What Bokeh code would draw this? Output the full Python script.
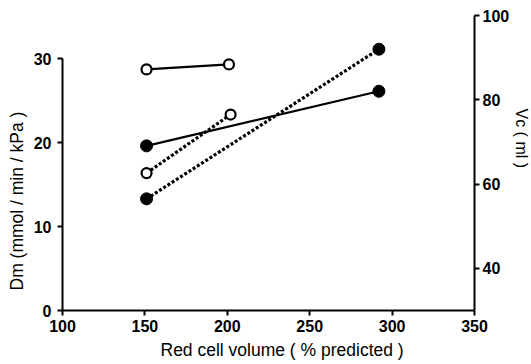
from bokeh.plotting import figure
from bokeh.models import Range1d, LinearAxis, FixedTicker, Title
from bokeh.embed import file_html
from bokeh.resources import INLINE

# Dm (left axis, solid lines)
dm_open_x = [151, 201]
dm_open_y = [28.7, 29.3]
dm_filled_x = [151, 292]
dm_filled_y = [19.6, 26.1]

# Vc (right axis, dotted lines)
vc_open_x = [151, 202]
vc_open_y = [62.6, 76.5]
vc_filled_x = [151, 292]
vc_filled_y = [56.5, 92.0]

x_ticks = [100, 150, 200, 250, 300, 350]
dm_ticks = [0, 10, 20, 30]
vc_ticks = [40, 60, 80, 100]

x_label = "Red cell volume ( % predicted )"
dm_label = "Dm  (mmol / min / kPa )"
vc_label = "Vc  (  ml )"

FONT = "Liberation Sans"

p = figure(width=531, height=364, output_backend="svg", toolbar_location=None,
           x_range=Range1d(100, 350), y_range=Range1d(0, 35.12),
           min_border_left=62, min_border_right=53, min_border_top=15, min_border_bottom=54)
p.extra_y_ranges = {"vc": Range1d(30, 100)}
p.outline_line_color = None
p.xgrid.visible = False
p.ygrid.visible = False


def style_axis(ax, standoff):
    ax.major_label_text_font = FONT
    ax.major_label_text_font_style = "bold"
    ax.major_label_text_font_size = "16px"
    ax.major_label_text_color = "black"
    ax.minor_tick_line_color = None
    ax.axis_line_width = 2
    ax.major_tick_line_width = 2
    ax.major_tick_out = 5
    ax.major_tick_in = 0
    ax.major_label_standoff = standoff


style_axis(p.xaxis[0], 4)
p.xaxis.ticker = FixedTicker(ticks=x_ticks)
p.xaxis.bounds = (100, 350)
style_axis(p.yaxis[0], 6)
p.yaxis.ticker = FixedTicker(ticks=dm_ticks)
p.yaxis.bounds = (0, 30)

rax = LinearAxis(y_range_name="vc", ticker=FixedTicker(ticks=vc_ticks), bounds=(30, 100))
style_axis(rax, 3)
p.add_layout(rax, "right")

# solid Dm lines
p.line(dm_open_x, dm_open_y, line_color="black", line_width=2.2)
p.line(dm_filled_x, dm_filled_y, line_color="black", line_width=2.2)
# dotted Vc lines
p.line(vc_open_x, vc_open_y, y_range_name="vc", line_color="black", line_width=3.2, line_dash="3 2")
p.line(vc_filled_x, vc_filled_y, y_range_name="vc", line_color="black", line_width=3.2, line_dash="3 2")

# markers
p.scatter(dm_open_x, dm_open_y, size=10, marker="circle", fill_color="white", line_color="black", line_width=2.2)
p.scatter(dm_filled_x, dm_filled_y, size=12, marker="circle", fill_color="black", line_color="black")
p.scatter(vc_open_x, vc_open_y, y_range_name="vc", size=10, marker="circle", fill_color="white", line_color="black", line_width=2.2)
p.scatter(vc_filled_x, vc_filled_y, y_range_name="vc", size=12, marker="circle", fill_color="black", line_color="black")

# axis titles
p.add_layout(Title(text=x_label, align="left", offset=98, standoff=6, text_font=FONT,
                   text_font_size="17.5px", text_font_style="normal", text_color="black"), "below")
p.add_layout(Title(text=dm_label, align="left", offset=20, standoff=8, text_font=FONT,
                   text_font_size="17.5px", text_font_style="normal", text_color="black"), "left")
p.add_layout(Title(text=vc_label, align="left", offset=93, standoff=0, text_font=FONT,
                   text_font_size="16px", text_font_style="normal", text_color="black"), "right")

open("out.html", "w").write(file_html(p, INLINE))
